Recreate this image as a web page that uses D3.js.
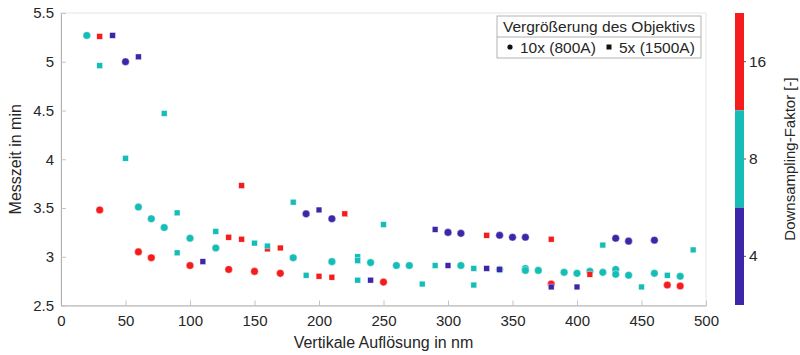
<!DOCTYPE html>
<html>
<head>
<meta charset="utf-8">
<script src="https://cdn.jsdelivr.net/npm/d3@7"></script>
<style>
  body { margin: 0; background: #fff; }
  svg text { font-family: "Liberation Sans", Arial, sans-serif; fill: #262626; }
</style>
</head>
<body>
<div id="chart"></div>
<script>
// Messpunkte [vertikale Auflösung in nm, Messzeit in min]
// 10x (800A) Objektiv -> Kreise
const circ4 = [[50, 5.00], [190, 3.44], [210, 3.39], [300, 3.25], [310, 3.24], [340, 3.22],
    [350, 3.20], [360, 3.20], [430, 3.19], [440, 3.16], [460, 3.17]];
const circ8 = [[20, 5.27], [60, 3.51], [70, 3.39], [80, 3.30], [100, 3.19], [120, 3.09], [180, 2.99],
    [210, 2.95], [240, 2.94], [260, 2.91], [270, 2.91], [310, 2.91], [340, 2.87], [360, 2.88],
    [360, 2.86], [370, 2.86], [390, 2.84], [400, 2.83], [410, 2.85], [420, 2.84], [430, 2.87],
    [430, 2.82], [440, 2.81], [460, 2.83], [480, 2.80]];
const circ16 = [[30, 3.48], [60, 3.05], [70, 2.99], [100, 2.91], [130, 2.87], [150, 2.85],
    [170, 2.83], [250, 2.74], [380, 2.72], [470, 2.71], [480, 2.70]];
// 5x (1500A) Objektiv -> Quadrate
const sq4 = [[40, 5.27], [60, 5.05], [110, 2.95], [200, 3.48], [240, 2.76], [290, 3.28],
    [300, 2.91], [330, 2.88], [340, 2.87], [380, 2.69], [400, 2.69]];
const sq8 = [[30, 4.96], [50, 4.01], [80, 4.47], [90, 3.45], [90, 3.04], [120, 3.26], [150, 3.14],
    [160, 3.11], [180, 3.56], [190, 2.81], [230, 3.00], [230, 2.96], [230, 2.76], [250, 3.33],
    [280, 2.72], [290, 2.91], [320, 2.88], [320, 2.71], [420, 3.12], [450, 2.69], [470, 2.81], [490, 3.07]];
const sq16 = [[30, 5.26], [130, 3.20], [140, 3.73], [140, 3.18], [160, 3.08], [170, 3.09],
    [200, 2.80], [210, 2.79], [220, 3.44], [330, 3.22], [380, 3.18], [410, 2.82]];

const factors = [4, 8, 16];
const factorColors = ["#3e26a8", "#14bdb5", "#f41c1c"];
const xTicks = [0, 50, 100, 150, 200, 250, 300, 350, 400, 450, 500];
const yTicks = [2.5, 3, 3.5, 4, 4.5, 5, 5.5];
const legendLabels = ["10x (800A)", "5x (1500A)"];

const width = 800, height = 355;
const plot = { left: 61, right: 706, top: 13, bottom: 305.5 };

const color = d3.scaleOrdinal(factors, factorColors);
const x = d3.scaleLinear([0, 500], [plot.left, plot.right]);
const y = d3.scaleLinear([2.5, 5.5], [plot.bottom, plot.top]);

const svg = d3.select("#chart").append("svg")
    .attr("width", width)
    .attr("height", height)
    .attr("viewBox", [0, 0, width, height]);

// Rahmen
svg.append("rect")
    .attr("x", plot.left).attr("y", plot.top)
    .attr("width", plot.right - plot.left).attr("height", plot.bottom - plot.top)
    .attr("fill", "none").attr("stroke", "#e6e6e6");

const xAxis = svg.append("g")
    .attr("transform", `translate(0,${plot.bottom})`)
    .call(d3.axisBottom(x).tickValues(xTicks).tickFormat(d3.format("~g"))
        .tickSizeInner(-5).tickSizeOuter(0).tickPadding(10));
const yAxis = svg.append("g")
    .attr("transform", `translate(${plot.left},0)`)
    .call(d3.axisLeft(y).tickValues(yTicks).tickFormat(d3.format("~g"))
        .tickSizeInner(-5).tickSizeOuter(0).tickPadding(7));

[xAxis, yAxis].forEach(g => {
    g.select(".domain").attr("stroke", "#b0b0b0");
    g.selectAll(".tick line").attr("stroke", "#c4c4c4");
    g.selectAll(".tick text").style("font-size", "15px").attr("fill", "#262626");
});

// Punkte: erst Kreise, dann Quadrate
const circles = [[4, circ4], [8, circ8], [16, circ16]]
    .flatMap(([f, pts]) => pts.map(p => ({ x: p[0], y: p[1], f })));
const squares = [[16, sq16], [4, sq4], [8, sq8]]
    .flatMap(([f, pts]) => pts.map(p => ({ x: p[0], y: p[1], f })));

svg.append("g")
    .selectAll("circle")
    .data(circles)
    .join("circle")
    .attr("cx", d => x(d.x))
    .attr("cy", d => y(d.y))
    .attr("r", 3.8)
    .attr("fill", d => color(d.f))
    .attr("stroke", "#fff").attr("stroke-width", 0.4);

const s = 5.8;
svg.append("g")
    .selectAll("rect")
    .data(squares)
    .join("rect")
    .attr("x", d => x(d.x) - s / 2)
    .attr("y", d => y(d.y) - s / 2)
    .attr("width", s).attr("height", s)
    .attr("fill", d => color(d.f))
    .attr("stroke", "#fff").attr("stroke-width", 0.4);

// Achsentitel
svg.append("text")
    .attr("x", (plot.left + plot.right) / 2).attr("y", 348)
    .attr("text-anchor", "middle")
    .style("font-size", "16px")
    .text("Vertikale Auflösung in nm");

svg.append("text")
    .attr("transform", `translate(21,${(plot.top + plot.bottom) / 2}) rotate(-90)`)
    .attr("text-anchor", "middle")
    .style("font-size", "16px")
    .text("Messzeit in min");

// Legende
const lg = svg.append("g").attr("transform", "translate(497,16)");
lg.append("rect").attr("width", 204).attr("height", 42)
    .attr("fill", "#fff").attr("stroke", "#a0a0a0").attr("stroke-width", 0.8);
lg.append("line").attr("x1", 0).attr("x2", 204).attr("y1", 21).attr("y2", 21)
    .attr("stroke", "#a0a0a0").attr("stroke-width", 0.8);
lg.append("text").attr("x", 102).attr("y", 16).attr("text-anchor", "middle")
    .style("font-size", "15.5px").text("Vergrößerung des Objektivs");
lg.append("circle").attr("cx", 13).attr("cy", 31).attr("r", 2.6).attr("fill", "#111");
lg.append("text").attr("x", 23).attr("y", 36.5).style("font-size", "15.5px").text(legendLabels[0]);
lg.append("rect").attr("x", 109.5).attr("y", 28.5).attr("width", 5).attr("height", 5).attr("fill", "#111");
lg.append("text").attr("x", 122).attr("y", 36.5).style("font-size", "15.5px").text(legendLabels[1]);

// Farbleiste
const cb = d3.scaleBand([16, 8, 4], [plot.top, 305]);
const cbX = 735, cbW = 9;
svg.append("g")
    .selectAll("rect")
    .data(cb.domain())
    .join("rect")
    .attr("x", cbX).attr("y", d => cb(d))
    .attr("width", cbW).attr("height", cb.bandwidth())
    .attr("fill", d => color(d));

const cbAxis = svg.append("g")
    .attr("transform", `translate(${cbX + cbW},0)`)
    .call(d3.axisRight(cb).tickSizeInner(2).tickSizeOuter(0).tickPadding(3));
cbAxis.select(".domain").remove();
cbAxis.selectAll(".tick line").attr("stroke", "#555");
cbAxis.selectAll(".tick text").style("font-size", "15.5px").attr("fill", "#262626");

svg.append("text")
    .attr("transform", `translate(795,${(plot.top + 305) / 2}) rotate(-90)`)
    .attr("text-anchor", "middle")
    .style("font-size", "15px")
    .text("Downsampling-Faktor [-]");
</script>
</body>
</html>
